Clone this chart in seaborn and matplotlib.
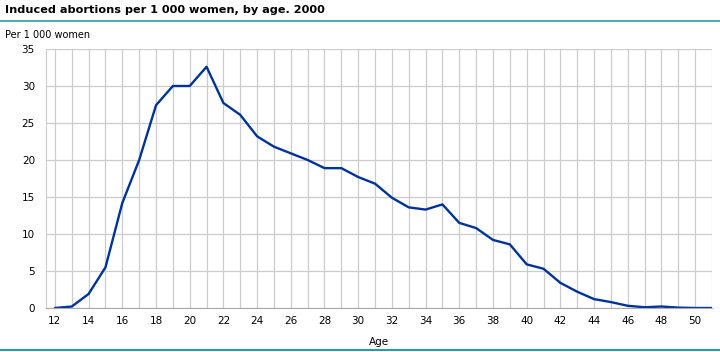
import matplotlib
matplotlib.use("Agg")
import matplotlib.pyplot as plt
from matplotlib.lines import Line2D
import numpy as np
import pandas as pd
import seaborn as sns

# data
ages = list(range(12, 52))
rates = [0.0, 0.2, 1.9, 5.5, 14.2, 20.0, 27.4, 30.0, 30.0, 32.6,
         27.7, 26.1, 23.2, 21.8, 20.9, 20.0, 18.9, 18.9, 17.7, 16.8,
         14.9, 13.6, 13.3, 14.0, 11.5, 10.8, 9.2, 8.6, 5.9, 5.3,
         3.4, 2.2, 1.2, 0.8, 0.3, 0.1, 0.2, 0.05, 0.0, 0.0]
xticks = list(range(12, 51, 2))
yticks = list(range(0, 36, 5))

df = pd.DataFrame({"age": ages, "rate": rates})

sns.set_style("white")
plt.rcParams['font.family'] = ['DejaVu Sans']
plt.rcParams['text.color'] = 'black'
plt.rcParams['axes.labelcolor'] = 'black'

grid = "#cccccc"
blue = "#003399"
teal = "#2a9d98"

fig = plt.figure(figsize=(7.2, 3.52), dpi=100)
ax = fig.add_axes([46/720, 1 - 308/352, (712 - 46)/720, (308 - 49)/352])

sns.lineplot(data=df, x="age", y="rate", color=blue, linewidth=1.7, ax=ax)

ax.set_xlim(11.47, 51)
ax.set_ylim(0, 35)
ax.set_xticks(xticks)
ax.set_yticks(yticks)
ax.set_xticks(ages, minor=True)
ax.grid(True, which="both", axis="x", color=grid, linewidth=0.9)
ax.grid(True, which="major", axis="y", color=grid, linewidth=0.9)
ax.set_axisbelow(True)
for s in ["top", "right"]:
    ax.spines[s].set_visible(False)
ax.spines["left"].set_color(grid)
ax.spines["bottom"].set_color("#aaaaaa")
ax.tick_params(axis="both", which="both", length=0, labelsize=7.5, colors="#000000")
ax.tick_params(axis="x", pad=6)
ax.tick_params(axis="y", pad=8)
ax.set_xlabel("Age", fontsize=7.5, labelpad=8)
ax.set_ylabel("")

fig.text(5/720, 1 - 10/352, "Induced abortions per 1 000 women, by age. 2000",
         fontsize=8.1, fontweight="bold", va="center", ha="left")
fig.text(5/720, 1 - 35/352, "Per 1 000 women", fontsize=7, va="center", ha="left")
fig.add_artist(Line2D([0, 1], [1 - 21/352, 1 - 21/352], color=teal, linewidth=1.2))
fig.add_artist(Line2D([0, 1], [1 - 350/352, 1 - 350/352], color=teal, linewidth=1.5))

fig.savefig("out.png", dpi=100)
